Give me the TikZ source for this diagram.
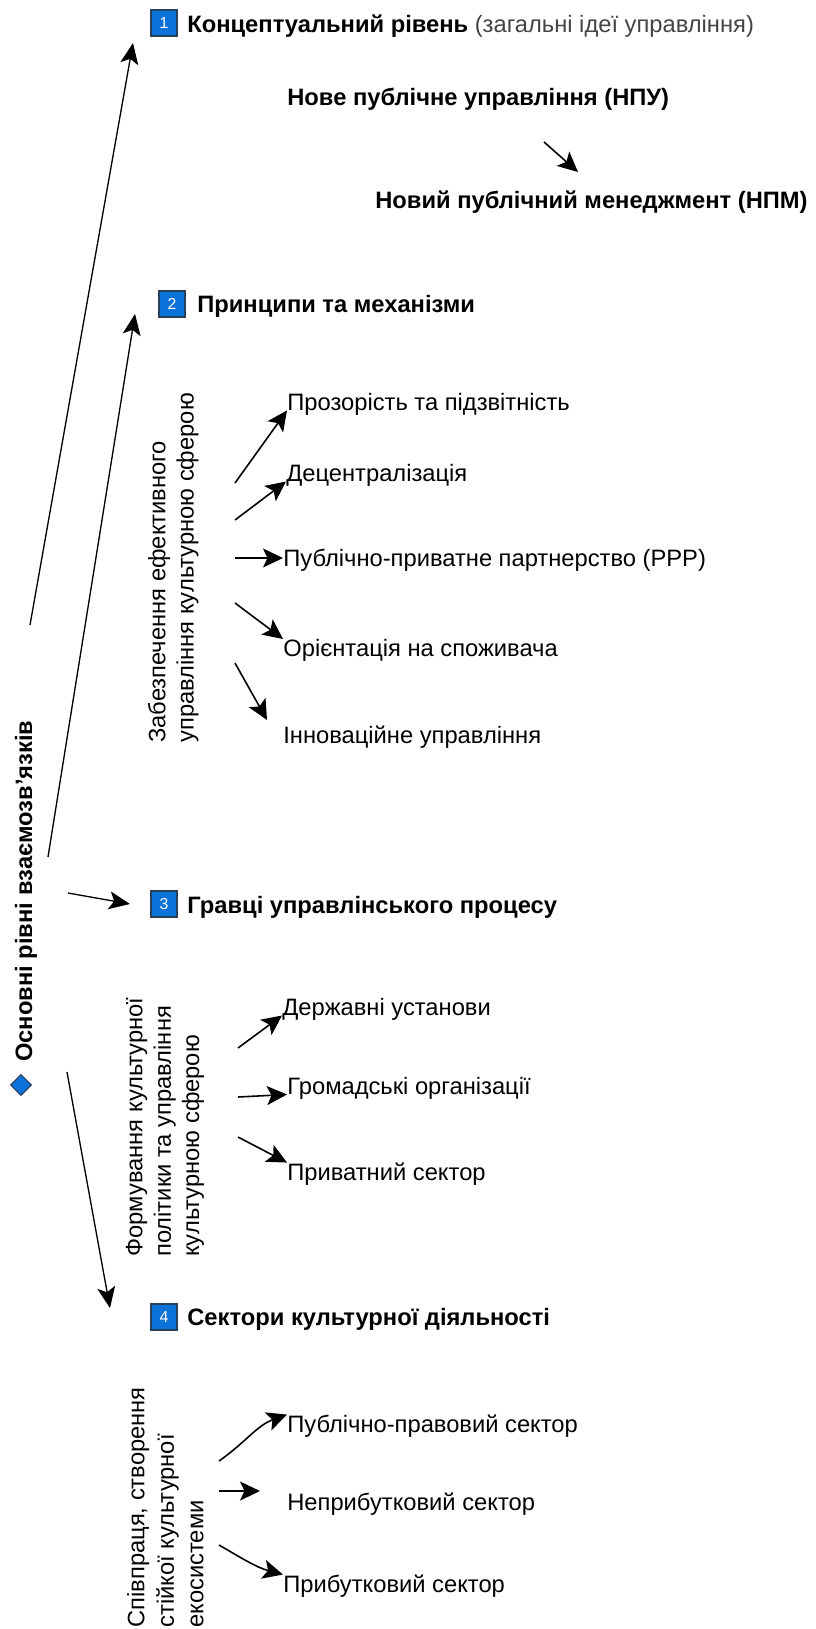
\documentclass[tikz,border=0pt]{standalone}
\usepackage{fontspec}
\setmainfont{Liberation Sans}
\usetikzlibrary{arrows.meta,shapes.geometric}
\definecolor{boxblue}{HTML}{0A72D8}
\definecolor{boxedge}{HTML}{27405E}
\definecolor{greytxt}{HTML}{444444}

\begin{document}
\begin{tikzpicture}[
  txt/.style={inner sep=0pt,anchor=base west,font=\fontsize{13.5}{16}\selectfont},
  ttl/.style={txt,font=\fontsize{13.5}{16}\selectfont\bfseries},
  vtxt/.style={inner sep=0pt,rotate=90,anchor=south west,align=left},
  numbox/.style={draw=boxedge,fill=boxblue,line width=0.6pt,minimum size=0.52cm,inner sep=0pt,text=white,font=\fontsize{9}{9}\selectfont},
  arr/.style={-{Stealth[length=0.4cm,width=0.38cm,inset=0.09cm]},line width=0.9pt},
  longarr/.style={-{Stealth[length=0.42cm,width=0.36cm,inset=0.1cm]},line width=0.75pt}]
\useasboundingbox (0,0) rectangle (16.30,-32.58);

\node[diamond,draw=boxedge,fill=boxblue,line width=0.6pt,minimum size=0.42cm,inner sep=0pt] (romb) at (0.42,-21.7) {};
\node[rotate=90,inner sep=0pt,anchor=base west,font=\fontsize{13.5}{16}\selectfont\bfseries] (osnovni) at (0.64,-21.24) {Основні рівні взаємозв’язків};

\node[numbox] (n1) at (3.28,-0.46) {1};
\node[txt] (konc) at (3.74,-0.65) {\textbf{Концептуальний рівень} {\color{greytxt}(загальні ідеї управління)}};
\node[ttl] (npu) at (5.74,-2.11) {Нове публічне управління (НПУ)};
\node[ttl] (npm) at (7.50,-4.17) {Новий публічний менеджмент (НПМ)};

\node[numbox] (n2) at (3.44,-6.08) {2};
\node[ttl] (pryntsypy) at (3.94,-6.25) {Принципи та механізми};
\node[vtxt,font=\fontsize{13.5}{16.2}\selectfont] (zabezp) at (3.98,-14.86) {Забезпечення ефективного\\управління культурною сферою};
\node[txt] (prozor) at (5.74,-8.21) {Прозорість та підзвітність};
\node[txt] (detsentr) at (5.72,-9.63) {Децентралізація};
\node[txt] (ppp) at (5.66,-11.33) {Публічно-приватне партнерство (PPP)};
\node[txt] (spozhyv) at (5.66,-13.13) {Орієнтація на споживача};
\node[txt] (innov) at (5.66,-14.87) {Інноваційне управління};

\node[numbox] (n3) at (3.28,-18.08) {3};
\node[ttl] (gravtsi) at (3.74,-18.27) {Гравці управлінського процесу};
\node[vtxt,font=\fontsize{13.5}{16.2}\selectfont] (formuv) at (4.09,-25.14) {Формування культурної\\політики та управління\\культурною сферою};
\node[txt] (derzh) at (5.64,-20.31) {Державні установи};
\node[txt] (gromad) at (5.74,-21.89) {Громадські організації};
\node[txt] (pryvat) at (5.74,-23.61) {Приватний сектор};

\node[numbox] (n4) at (3.28,-26.34) {4};
\node[ttl] (sektory) at (3.74,-26.51) {Сектори культурної діяльності};
\node[vtxt,font=\fontsize{13.5}{16.8}\selectfont] (spivpr) at (4.08,-32.56) {Співпраця, створення\\стійкої культурної\\екосистеми};
\node[txt] (publpr) at (5.74,-28.65) {Публічно-правовий сектор};
\node[txt] (nepryb) at (5.74,-30.21) {Неприбутковий сектор};
\node[txt] (pryb) at (5.66,-31.85) {Прибутковий сектор};

\coordinate (l1s) at (0.60,-12.50);
\coordinate (l1e) at (2.66,-0.86);
\coordinate (l2s) at (0.96,-17.14);
\coordinate (l2e) at (2.70,-6.28);
\coordinate (l3s) at (1.36,-17.86);
\coordinate (l3e) at (2.60,-18.08);
\coordinate (l4s) at (1.34,-21.44);
\coordinate (l4e) at (2.20,-26.16);
\draw[longarr] (l1s)--(l1e);
\draw[longarr] (l2s)--(l2e);
\draw[longarr] (l3s)--(l3e);
\draw[longarr] (l4s)--(l4e);

\coordinate (npus) at (10.88,-2.84);
\coordinate (npme) at (11.56,-3.44);
\draw[arr] (npus)--(npme);

\coordinate (z1) at (4.70,-9.66);
\coordinate (z2) at (4.70,-10.40);
\coordinate (z3) at (4.70,-11.16);
\coordinate (z4) at (4.70,-12.06);
\coordinate (z5) at (4.70,-13.26);
\coordinate (z5e) at (5.34,-14.40);
\draw[arr] (z1)--(prozor.base west);
\draw[arr] (z2)--(detsentr.base west);
\draw[arr] (z3)--(5.66,-11.16);
\draw[arr] (z4)--(spozhyv.north west);
\draw[arr] (z5)--(z5e);

\coordinate (f1) at (4.76,-20.96);
\coordinate (f2) at (4.76,-21.94);
\coordinate (f3) at (4.76,-22.74);
\draw[arr] (f1)--(derzh.base west);
\draw[arr] (f2)--(gromad.base west);
\draw[arr] (f3)--(pryvat.north west);

\coordinate (s1) at (4.38,-29.22);
\coordinate (s2) at (4.38,-29.82);
\coordinate (s2e) at (5.20,-29.82);
\coordinate (s3) at (4.38,-30.90);
\draw[arr] (s1) to[out=35,in=200] (publpr.north west);
\draw[arr] (s2)--(s2e);
\draw[arr] (s3) to[out=-30,in=165] (pryb.north west);
\end{tikzpicture}
\end{document}
